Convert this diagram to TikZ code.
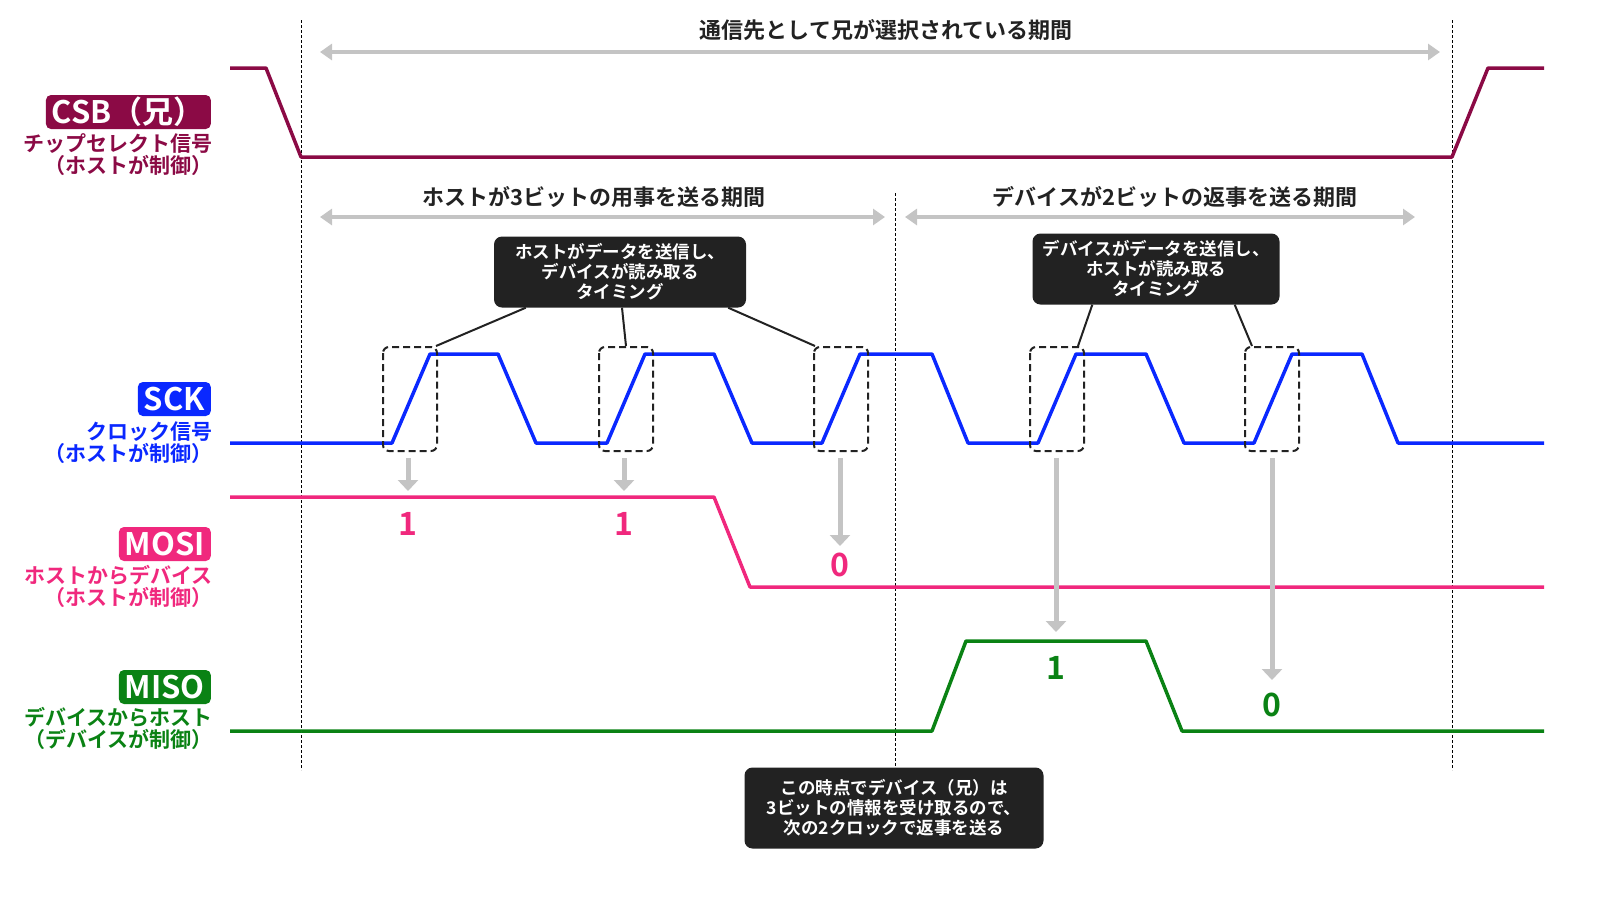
\documentclass[tikz,border=0pt]{standalone}
\usepackage{fontspec}
\setmainfont{Noto Sans CJK JP Bold}
\usetikzlibrary{arrows.meta, positioning}
\definecolor{csbcol}{HTML}{8B0A45}
\definecolor{sckcol}{HTML}{0A28FF}
\definecolor{mosicol}{HTML}{F0287D}
\definecolor{misocol}{HTML}{0A8214}
\definecolor{boxcol}{HTML}{222222}
\definecolor{arrcol}{HTML}{C4C4C4}
\tikzset{
sig/.style={line width=3.5pt, line join=round}, % signal lines
tag/.style={rounded corners=5pt, text=white, font=\fontsize{31}{32}\selectfont, inner xsep=6pt, inner ysep=0pt, minimum height=34pt, anchor=east}, % signal name boxes
sub/.style={align=right, anchor=north east, font=\fontsize{21}{22}\selectfont, inner sep=0pt}, % description under a name
period/.style={arrcol, line width=4pt, {Triangle[length=12pt,width=16pt]}-{Triangle[length=12pt,width=16pt]}},
title/.style={font=\fontsize{22}{24}\selectfont, text=boxcol},
call/.style={fill=boxcol, rounded corners=8pt, text=white, align=center, font=\fontsize{17.5}{20}\selectfont, inner sep=0pt},
pick/.style={draw=boxcol, dash pattern=on 7pt off 4pt, line width=2pt, rounded corners=6pt},
sample/.style={arrcol, line width=5pt, -{Triangle[length=11pt,width=20pt]}},
bit/.style={font=\fontsize{32}{32}\selectfont},
}
\begin{document}
\begin{tikzpicture}[x=1pt, y=-1pt]
\useasboundingbox (0,0) rectangle (1624,914);
% borders of the phases
\draw[densely dashed, line width=1pt] (301,20) -- (301,770);
\draw[densely dashed, line width=1pt] (1452,20) -- (1452,770);
\draw[densely dashed, line width=1pt] (895,193) -- (895,770);
% periods
\coordinate (p1l) at (320,52); \coordinate (p1r) at (1440,52);
\draw[period] (p1l) -- (p1r);
\node[title] (t1) at (886,30) {通信先として兄が選択されている期間};
\coordinate (p2l) at (320,217); \coordinate (p2r) at (885,217);
\draw[period] (p2l) -- (p2r);
\node[title] (t2) at (594,197) {ホストが3ビットの用事を送る期間};
\coordinate (p3l) at (905,217); \coordinate (p3r) at (1415,217);
\draw[period] (p3l) -- (p3r);
\node[title] (t3) at (1175,197) {デバイスが2ビットの返事を送る期間};
% signals
\draw[sig, csbcol] (230,68) -- (266,68) -- (301,157) -- (1452,157) -- (1488,68) -- (1544,68);
\draw[sig, sckcol] (230,443) -- (392,443) -- (430,354) -- (498,354) -- (536,443) -- (607,443) -- (645,354) -- (714,354) -- (752,443) -- (822,443) -- (860,354) -- (932,354) -- (968,443) -- (1038,443) -- (1076,354) -- (1146,354) -- (1184,443) -- (1254,443) -- (1292,354) -- (1362,354) -- (1398,443) -- (1544,443);
\draw[sig, mosicol] (230,497) -- (714,497) -- (750,587) -- (1544,587);
\draw[sig, misocol] (230,731) -- (932,731) -- (966,641) -- (1146,641) -- (1182,731) -- (1544,731);
% names
\node[tag, fill=csbcol] (csb) at (211,112) {CSB（兄）};
\node[sub, text=csbcol] (csbs) at (213,133) {チップセレクト信号\\（ホストが制御）};
\node[tag, fill=sckcol] (sck) at (211,399) {SCK};
\node[sub, text=sckcol] (scks) at (213,422) {クロック信号\\（ホストが制御）};
\node[tag, fill=mosicol] (mosi) at (211,544) {MOSI};
\node[sub, text=mosicol] (mosis) at (213,565) {ホストからデバイス\\（ホストが制御）};
\node[tag, fill=misocol] (miso) at (211,687) {MISO};
\node[sub, text=misocol] (misos) at (213,707) {デバイスからホスト\\（デバイスが制御）};
% sampling edges
\foreach \x [count=\i] in {410,626,841,1057,1272}
  \draw[pick] (\x-27,347) rectangle (\x+27,451) coordinate (e\i);
\coordinate (e1t) at (436,346); \coordinate (e2t) at (626,346); \coordinate (e3t) at (815,346);
\coordinate (e4t) at (1078,346); \coordinate (e5t) at (1252,346);
% bits
\node[bit, text=mosicol] (b1) at (408,524) {1};
\node[bit, text=mosicol] (b2) at (624,524) {1};
\node[bit, text=mosicol] (b3) at (840,565) {0};
\node[bit, text=misocol] (b4) at (1056,668) {1};
\node[bit, text=misocol] (b5) at (1272,705) {0};
\draw[sample] (408,458) -- (408,491);
\draw[sample] (624,458) -- (624,491);
\draw[sample] (840,458) -- (840,546);
\draw[sample] (1056,458) -- (1056,632);
\draw[sample] (1272,458) -- (1272,680);
% callouts
\node[call, minimum width=252pt, minimum height=71pt] (c1) at (620,272) {ホストがデータを送信し、\\デバイスが読み取る\\タイミング};
\node[call, minimum width=247pt, minimum height=71pt] (c2) at (1156,269) {デバイスがデータを送信し、\\ホストが読み取る\\タイミング};
\node[call, minimum width=299pt, minimum height=81pt] (c3) at (894,808) {この時点でデバイス（兄）は\\3ビットの情報を受け取るので、\\次の2クロックで返事を送る};
\draw[boxcol, line width=2pt] (c1.south west) ++(32,0) -- (e1t);
\draw[boxcol, line width=2pt] (c1.south) ++(2,0) -- (e2t);
\draw[boxcol, line width=2pt] (c1.south east) ++(-18,0) -- (e3t);
\draw[boxcol, line width=2pt] (c2.south west) ++(60,0) -- (e4t);
\draw[boxcol, line width=2pt] (c2.south east) ++(-45,0) -- (e5t);
\end{tikzpicture}
\end{document}
